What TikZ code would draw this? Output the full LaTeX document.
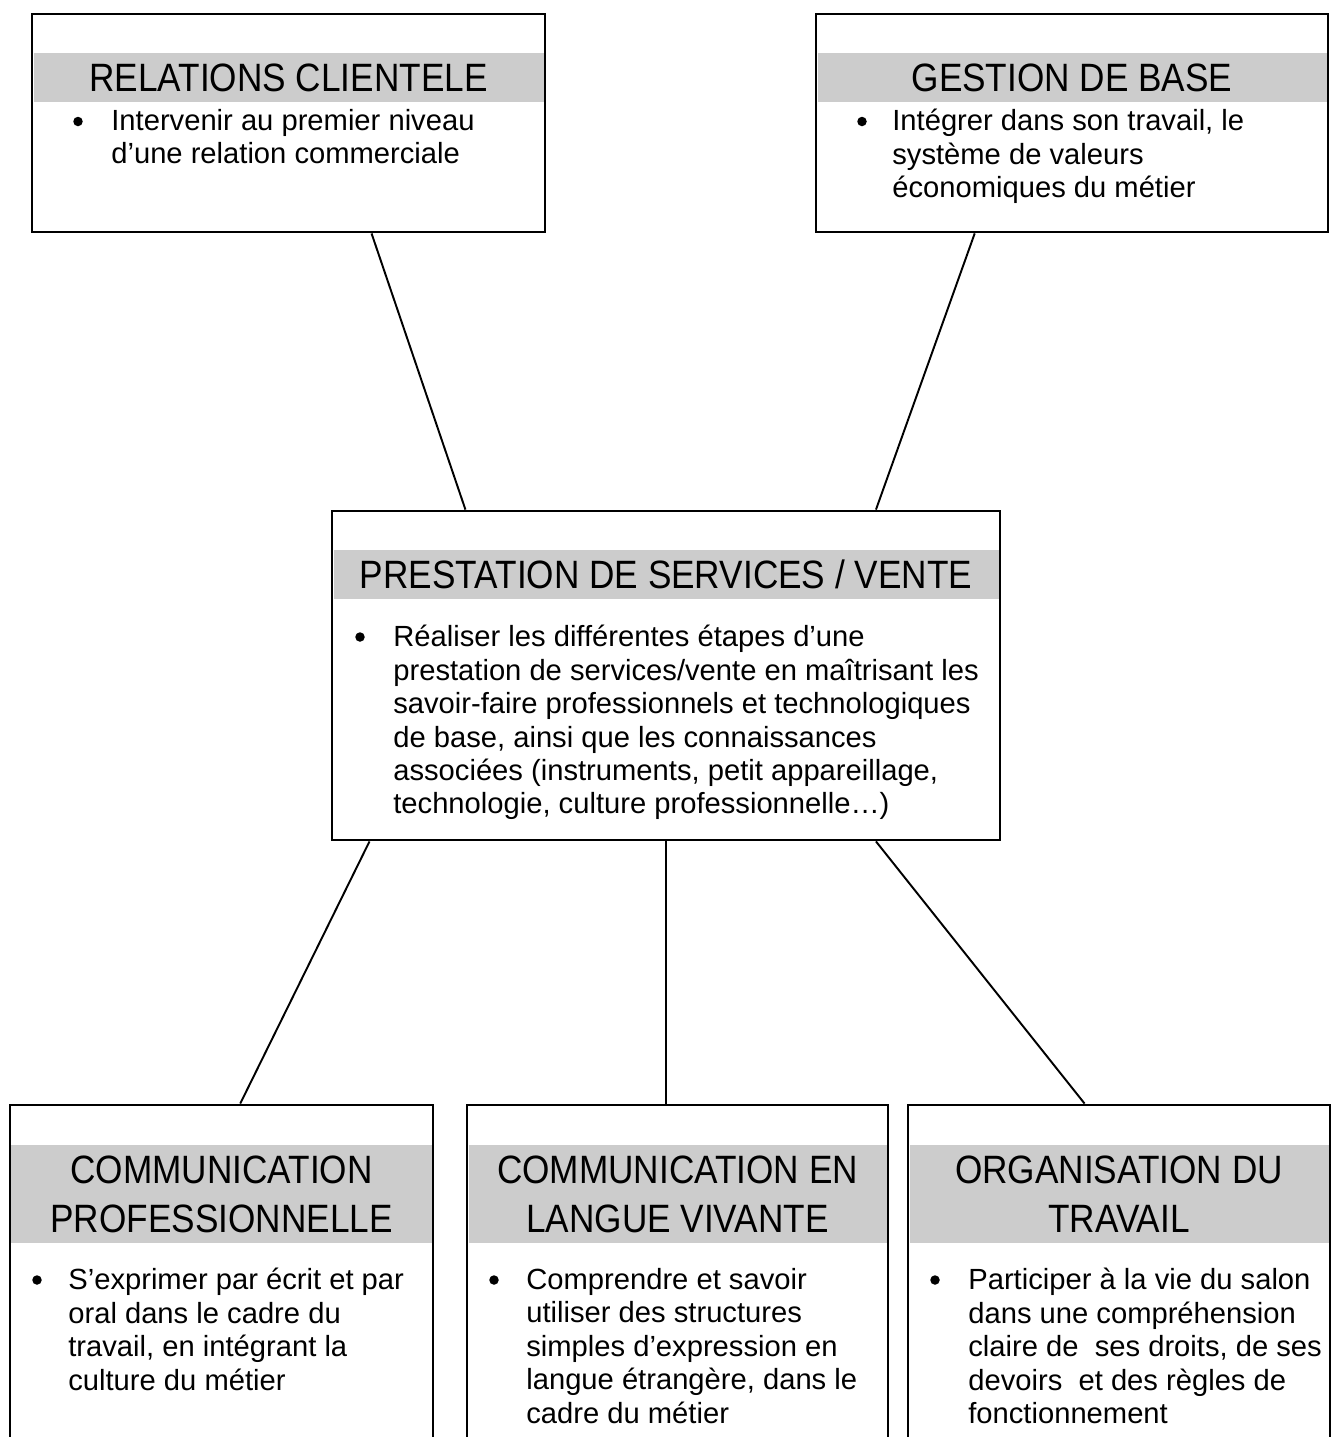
\documentclass[tikz,border=0pt]{standalone}
\usepackage{fontspec}
\setmainfont{Liberation Sans}
\newfontfamily\narrowfont[FakeStretch=0.89]{Liberation Sans}
\usetikzlibrary{calc}

\begin{document}
\begin{tikzpicture}[
  box/.style={draw, line width=1.6pt, minimum height=4.36cm},
  band/.style={fill=gray!40, inner sep=0pt, align=center, font=\narrowfont\fontsize{22.5}{28}\selectfont},
  txt/.style={anchor=north west, inner sep=0pt, align=left, font=\fontsize{16.6}{19}\selectfont,
    execute at begin node={\rule{0pt}{14pt}}},
  dot/.style={circle, fill, inner sep=0pt, minimum size=0.19cm},
  link/.style={line width=1.1pt}]
  % 1 px of the page = 0.02cm, page top at y = 0
  \useasboundingbox (0,0) rectangle (26.8,-28.74);
  \clip (0,0) rectangle (26.8,-28.74);

  % top row
  \node[box, minimum width=10.26cm] (rc) at (5.77,-2.46) {};
  \node[band, minimum width=10.2cm, minimum height=0.98cm] (rch) at (5.77,-1.55) {RELATIONS CLIENTELE};
  \node[dot] (rcd) at (1.56,-2.43) {};
  \node[txt] (rct) at (2.22,-2.18) {Intervenir au premier niveau\\d’une relation commerciale};

  \node[box, minimum width=10.24cm] (gb) at (21.44,-2.46) {};
  \node[band, minimum width=10.18cm, minimum height=0.98cm] (gbh) at (21.44,-1.55) {GESTION DE BASE};
  \node[dot] (gbd) at (17.24,-2.43) {};
  \node[txt] (gbt) at (17.84,-2.18) {Intégrer dans son travail, le\\système de valeurs\\économiques du métier};

  % middle
  \node[box, minimum width=13.36cm, minimum height=6.58cm] (ps) at (13.32,-13.51) {};
  \node[band, minimum width=13.3cm, minimum height=0.98cm] (psh) at (13.32,-11.49) {PRESTATION DE SERVICES / VENTE};
  \node[dot] (psd) at (7.20,-12.74) {};
  \node[txt] (pst) at (7.86,-12.50) {Réaliser les différentes étapes d’une\\prestation de services/vente en maîtrisant les\\savoir-faire professionnels et technologiques\\de base, ainsi que les connaissances\\associées (instruments, petit appareillage,\\technologie, culture professionnelle…)};

  % bottom row, boxes run off the page
  \node[box, minimum width=8.46cm, minimum height=7.9cm] (cp) at (4.43,-26.05) {};
  \node[band, minimum width=8.4cm, minimum height=1.96cm] (cph) at (4.43,-23.88) {COMMUNICATION\\PROFESSIONNELLE};
  \node[dot] (cpd) at (0.74,-25.60) {};
  \node[txt] (cpt) at (1.36,-25.36) {S’exprimer par écrit et par\\oral dans le cadre du\\travail, en intégrant la\\culture du métier};

  \node[box, minimum width=8.42cm, minimum height=7.9cm] (cl) at (13.55,-26.05) {};
  \node[band, minimum width=8.36cm, minimum height=1.96cm] (clh) at (13.55,-23.88) {COMMUNICATION EN\\LANGUE VIVANTE};
  \node[dot] (cld) at (9.88,-25.60) {};
  \node[txt] (clt) at (10.52,-25.36) {Comprendre et savoir\\utiliser des structures\\simples d’expression en\\langue étrangère, dans le\\cadre du métier};

  \node[box, minimum width=8.44cm, minimum height=7.9cm] (ot) at (22.38,-26.05) {};
  \node[band, minimum width=8.38cm, minimum height=1.96cm] (oth) at (22.38,-23.88) {ORGANISATION DU\\TRAVAIL};
  \node[dot] (otd) at (18.70,-25.60) {};
  \node[txt] (ott) at (19.36,-25.36) {Participer à la vie du salon\\dans une compréhension\\claire de\ \ ses droits, de ses\\devoirs\ \ et des règles de\\fonctionnement};

  % connectors
  \draw[link] ($(rc.south west)!0.661!(rc.south east)$) -- ($(ps.north west)!0.201!(ps.north east)$);
  \draw[link] ($(gb.south west)!0.311!(gb.south east)$) -- ($(ps.north west)!0.813!(ps.north east)$);
  \draw[link] ($(ps.south west)!0.058!(ps.south east)$) -- ($(cp.north west)!0.544!(cp.north east)$);
  \draw[link] (ps.south) -- (ps.south |- cl.north);
  \draw[link] ($(ps.south west)!0.813!(ps.south east)$) -- ($(ot.north west)!0.419!(ot.north east)$);
\end{tikzpicture}
\end{document}
